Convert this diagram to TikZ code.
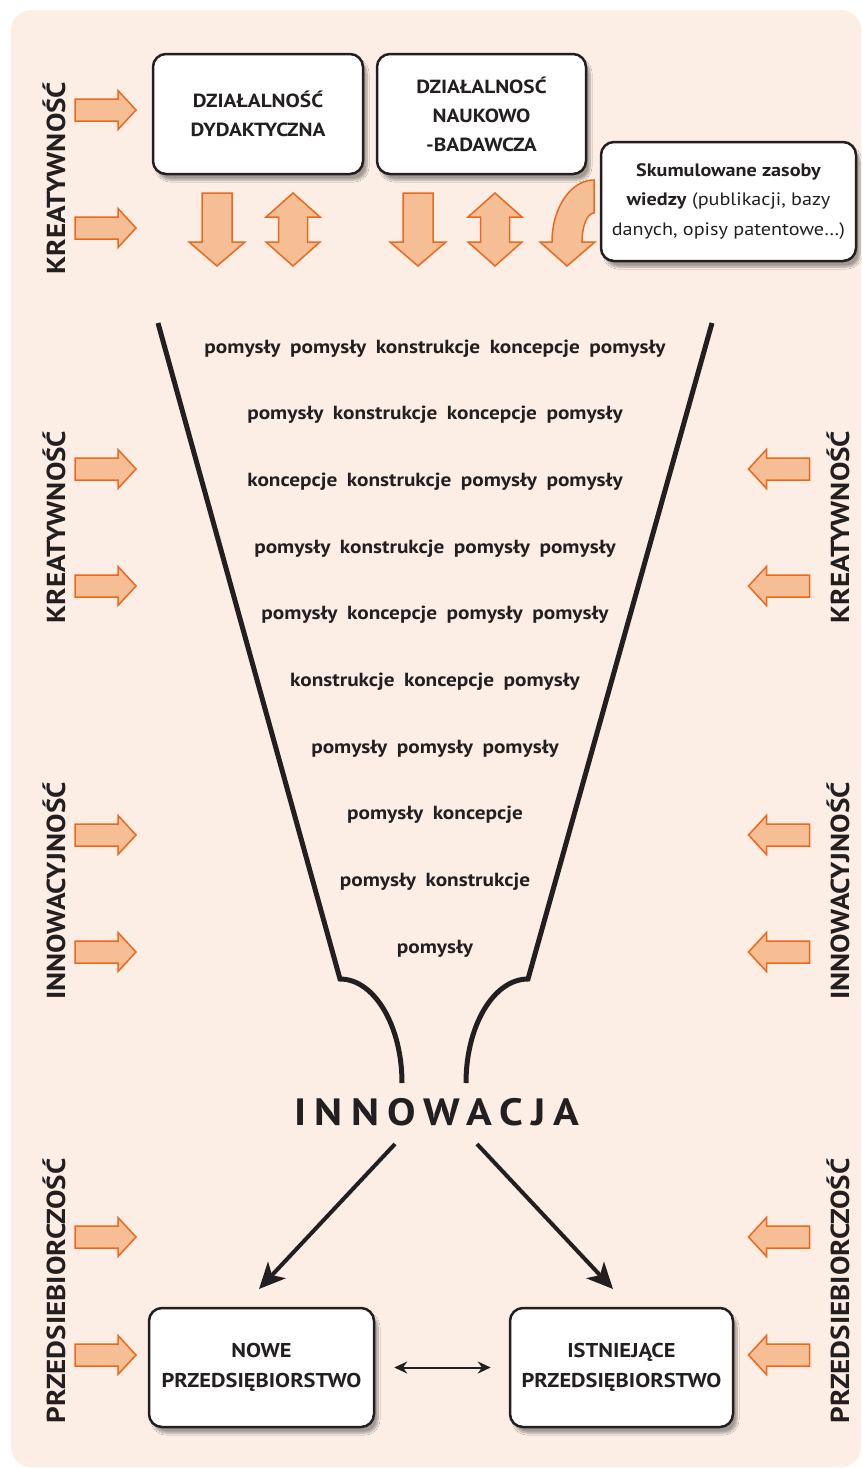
\documentclass[tikz,border=0pt]{standalone}
\usepackage{fontspec}
\setmainfont[FakeStretch=1.12]{PT Sans}
\usetikzlibrary{arrows.meta,shadows.blur}

\definecolor{paper}{RGB}{252,238,229}
\definecolor{ink}{RGB}{35,31,32}
\definecolor{peach}{RGB}{246,190,149}
\definecolor{rust}{RGB}{236,104,28}

\tikzset{
  blockarrow/.style={fill=peach,draw=rust,line width=1.5pt,line join=miter},
  sidearrow/.pic={\draw[blockarrow] (-30.5,-11) -- (12.5,-11) -- (12.5,-19.5) -- (30.5,0)
      -- (12.5,19.5) -- (12.5,11) -- (-30.5,11) -- cycle;},
  downarrow/.pic={\draw[blockarrow] (-15,-36.5) -- (15,-36.5) -- (15,12.5) -- (28,12.5)
      -- (0,36.5) -- (-28,12.5) -- (-15,12.5) -- cycle;},
  updownarrow/.pic={\draw[blockarrow] (0,-36.5) -- (27,-12.5) -- (14.5,-12.5) -- (14.5,12.5)
      -- (27,12.5) -- (0,36.5) -- (-27,12.5) -- (-14.5,12.5) -- (-14.5,-12.5) -- (-27,-12.5) -- cycle;}
}

\begin{document}
\begin{tikzpicture}[x=1pt,y=-1pt,
  box/.style={rectangle,rounded corners=13pt,draw=ink,line width=2.5pt,fill=white,
    blur shadow={shadow xshift=4pt,shadow yshift=-6pt,shadow blur steps=8,shadow opacity=35},
    align=center,text=ink,inner sep=0pt},
  boxtext/.style={font=\fontsize{19}{29}\selectfont\bfseries},
  word/.style={font=\fontsize{19}{23}\selectfont\bfseries,text=ink},
  sidelabel/.style={rotate=90,font=\fontsize{26}{30}\selectfont\bfseries,text=ink},
  funnel/.style={draw=ink,line width=5pt},
  bigarrow/.style={draw=ink,line width=4pt,-{Stealth[length=26pt,width=24pt,inset=7pt]}}]
\useasboundingbox (0,0) rectangle (862,1468);
\fill[paper,rounded corners=20pt] (11,10) rectangle (861,1467);

% sources at the top
\node[box,boxtext,minimum width=210pt,minimum height=120pt] (dydakt) at (258,114)
  {DZIAŁALNOŚĆ\\DYDAKTYCZNA};
\node[box,boxtext,minimum width=209pt,minimum height=120pt] (nauk) at (481.5,114)
  {DZIAŁALNOSĆ\\NAUKOWO\\-BADAWCZA};

% curved arrow from the knowledge box
\draw[blockarrow] (594,180) arc[start angle=270,end angle=180,x radius=42,y radius=62]
  -- (540,242) -- (567,266) -- (595,242) -- (582,242)
  arc[start angle=180,end angle=270,x radius=12,y radius=29] -- cycle;
\node[box,minimum width=255pt,minimum height=119pt,font=\fontsize{18}{29.5}\selectfont] (zasoby) at (728.5,201.5)
  {\textbf{Skumulowane zasoby}\\\textbf{wiedzy} (publikacji, bazy\\danych, opisy patentowe…)};

\pic at (217,229.5) {downarrow};
\pic at (293,229.5) {updownarrow};
\pic at (418,229.5) {downarrow};
\pic at (495,229.5) {updownarrow};

% side arrows
\foreach \y in {110,228,469,586,835,952,1237,1355}
  \pic at (105.5,\y) {sidearrow};
\foreach \y in {469,586,835,952,1237,1355}
  \pic[rotate=180] at (779,\y) {sidearrow};

% side labels
\node[sidelabel] (kreat1) at (54,178) {KREATYWNOŚĆ};
\node[sidelabel] (kreat2) at (54,527) {KREATYWNOŚĆ};
\node[sidelabel] (innow1) at (54,891) {INNOWACYJNOŚĆ};
\node[sidelabel] (przed1) at (54,1291) {PRZEDSIEBIORCZOŚĆ};
\node[sidelabel] (kreat3) at (838,527) {KREATYWNOŚĆ};
\node[sidelabel] (innow2) at (838,891) {INNOWACYJNOŚĆ};
\node[sidelabel] (przed2) at (838,1291) {PRZEDSIEBIORCZOŚĆ};

% funnel
\draw[funnel] (158,323) -- (340,979)
  arc[start angle=270,end angle=360,x radius=62,y radius=104];
\draw[funnel] (712,323) -- (528,979)
  arc[start angle=270,end angle=180,x radius=62,y radius=104];

\node[word] (row1) at (435,349) {pomysły\enspace pomysły\enspace konstrukcje\enspace koncepcje\enspace pomysły};
\node[word] (row2) at (435,415) {pomysły\enspace konstrukcje\enspace koncepcje\enspace pomysły};
\node[word] (row3) at (435,482) {koncepcje\enspace konstrukcje\enspace pomysły\enspace pomysły};
\node[word] (row4) at (435,549) {pomysły\enspace konstrukcje\enspace pomysły\enspace pomysły};
\node[word] (row5) at (435,615) {pomysły\enspace koncepcje\enspace pomysły\enspace pomysły};
\node[word] (row6) at (435,682) {konstrukcje\enspace koncepcje\enspace pomysły};
\node[word] (row7) at (435,749) {pomysły\enspace pomysły\enspace pomysły};
\node[word] (row8) at (435,815) {pomysły\enspace koncepcje};
\node[word] (row9) at (435,882) {pomysły\enspace konstrukcje};
\node[word] (row10) at (435,949) {pomysły};

\node[font=\fontsize{38}{40}\selectfont\bfseries\addfontfeature{LetterSpace=22},text=ink] (innowacja) at (437,1112) {INNOWACJA};

% enterprises
\node[box,boxtext,font=\fontsize{20}{30}\selectfont\bfseries,minimum width=225pt,minimum height=119pt] (nowe) at (261.5,1367.5)
  {NOWE\\PRZEDSIĘBIORSTWO};
\node[box,boxtext,font=\fontsize{20}{30}\selectfont\bfseries,minimum width=223pt,minimum height=119pt] (istn) at (621.5,1367.5)
  {ISTNIEJĄCE\\PRZEDSIĘBIORSTWO};

\coordinate (fromL) at (395,1144);
\coordinate (fromR) at (477,1144);
\coordinate (toL) at (259,1289);
\coordinate (toR) at (613,1289);
\draw[bigarrow] (fromL) -- (toL);
\draw[bigarrow] (fromR) -- (toR);
\draw[draw=ink,line width=2pt,{Stealth[length=13pt,width=12pt]}-{Stealth[length=13pt,width=12pt]},
  shorten <=19pt,shorten >=18pt] (nowe.east) -- (istn.west);
\end{tikzpicture}
\end{document}
